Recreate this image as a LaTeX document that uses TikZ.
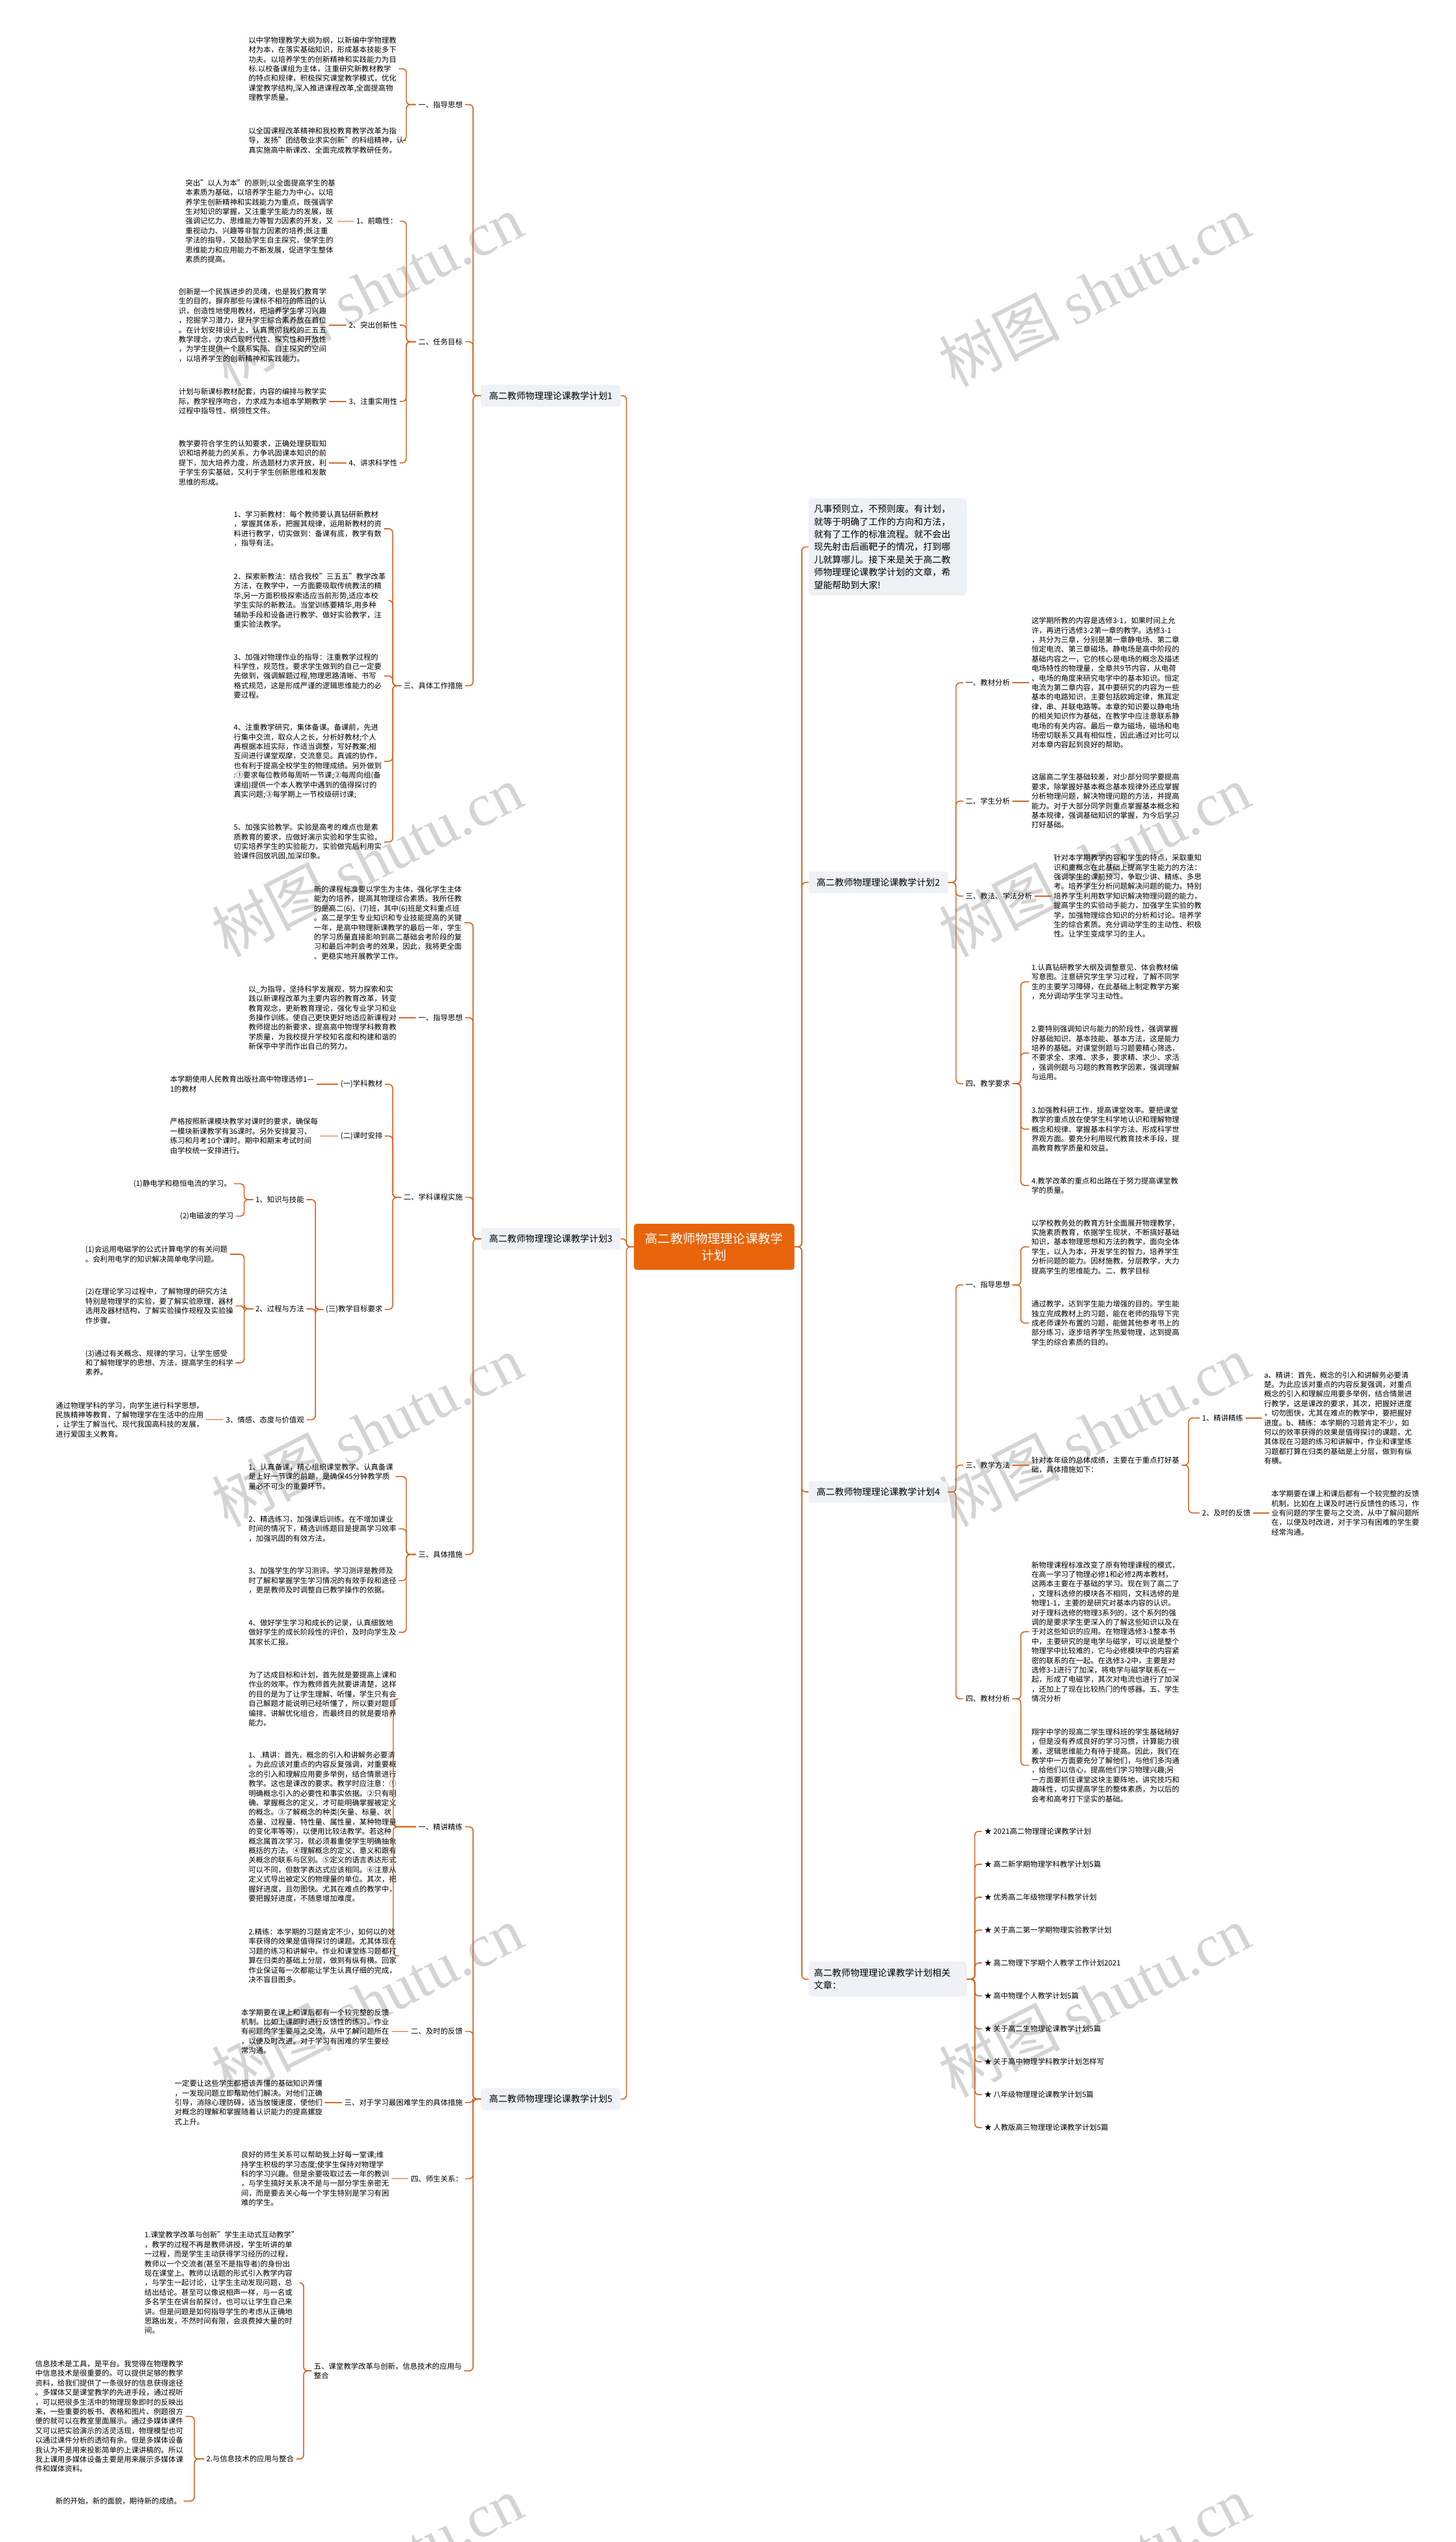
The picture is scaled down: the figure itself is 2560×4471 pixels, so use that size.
\documentclass[tikz,border=0pt]{standalone}
\usepackage{fontspec}
\setmainfont{Noto Sans CJK SC}
\newfontfamily\wmserif{Liberation Serif}
\definecolor{linkc}{RGB}{208,98,32}
\definecolor{boxc}{RGB}{238,241,245}
\definecolor{hubc}{RGB}{232,100,10}
\newcommand\fsz{\fontsize{13}{16.8}\selectfont}

\begin{document}
\begin{tikzpicture}[x=1pt,y=-1pt,
  txt/.style={font=\fsz,align=left,inner sep=4pt,anchor=west},
  lbl/.style={font=\fsz,inner sep=4pt},
  root/.style={font=\fontsize{16}{22}\selectfont,fill=boxc,rounded corners=4pt,inner xsep=10pt,minimum height=38pt,minimum width=245pt,anchor=west},
  note/.style={font=\fontsize{16}{22.3}\selectfont,fill=boxc,rounded corners=5pt,text width=259pt,inner xsep=9.5pt,align=left,anchor=west},
  hub/.style={font=\fontsize{22}{29}\selectfont,fill=hubc,text=white,rounded corners=5pt,align=center,minimum width=282pt,minimum height=81pt},
  link/.style={draw=linkc,line width=1.8pt,rounded corners=7pt},
  wm/.style={text=black!17,font=\fontsize{106}{110}\selectfont,rotate=27}]

\useasboundingbox (0,0) rectangle (2560,4471);
\fill[white] (0,0) rectangle (2560,4471);

\foreach \k in {0,...,4}{
  \node (wl\k) at (645,511+1003*\k) [wm]{树图 {\wmserif shutu.cn}};
  \node (wr\k) at (1925,511+1003*\k) [wm]{树图 {\wmserif shutu.cn}};
}

\node (hub) at (1256,2193) [hub]{高二教师物理理论课教学\\计划};

% left side
\node (p1) at (846,696) [root]{高二教师物理理论课教学计划1};
\node (p3) at (846,2179) [root]{高二教师物理理论课教学计划3};
\node (p5) at (846,3692) [root]{高二教师物理理论课教学计划5};

\node (p1a) at (818,184) [lbl,anchor=east]{一、指导思想};
\node (p1b) at (818,601) [lbl,anchor=east]{二、任务目标};
\node (p1c) at (818,1206) [lbl,anchor=east]{三、具体工作措施};

\node (p1a1) at (433,121) [txt]{以中学物理教学大纲为纲，以新编中学物理教\\材为本，在落实基础知识，形成基本技能多下\\功夫。以培养学生的创新精神和实践能力为目\\标.以校备课组为主体，注重研究新教材教学\\的特点和规律，积极探究课堂教学模式，优化\\课堂教学结构,深入推进课程改革,全面提高物\\理教学质量。};
\node (p1a2) at (433,247) [txt]{以全国课程改革精神和我校教育教学改革为指\\导，发扬"团结敬业求实创新"的科组精神，认\\真实施高中新课改、全面完成教学教研任务。};

\node (p1b1) at (703,389) [lbl,anchor=east]{1、前瞻性：};
\node (p1b2) at (703,572) [lbl,anchor=east]{2、突出创新性};
\node (p1b3) at (703,706) [lbl,anchor=east]{3、注重实用性};
\node (p1b4) at (703,814) [lbl,anchor=east]{4、讲求科学性};
\node (p1b1t) at (322,389) [txt]{突出"以人为本"的原则;以全面提高学生的基\\本素质为基础，以培养学生能力为中心，以培\\养学生创新精神和实践能力为重点，既强调学\\生对知识的掌握，又注重学生能力的发展，既\\强调记忆力、思维能力等智力因素的开发，又\\重视动力、兴趣等非智力因素的培养;既注重\\学法的指导，又鼓励学生自主探究，使学生的\\思维能力和应用能力不断发展，促进学生整体\\素质的提高。};
\node (p1b2t) at (310,572) [txt]{创新是一个民族进步的灵魂，也是我们教育学\\生的目的，摒弃那些与课标不相符的陈旧的认\\识，创造性地使用教材，把培养学生学习兴趣\\，挖掘学习潜力，提升学生综合素养放在首位\\。在计划安排设计上，认真贯彻我校的三五五\\教学理念，力求凸现时代性、探究性和开放性\\，为学生提供一个联系实际、自主探究的空间\\，以培养学生的创新精神和实践能力。};
\node (p1b3t) at (310,706) [txt]{计划与新课标教材配套，内容的编排与教学实\\际，教学程序吻合，力求成为本组本学期教学\\过程中指导性、纲领性文件。};
\node (p1b4t) at (310,814) [txt]{教学要符合学生的认知要求，正确处理获取知\\识和培养能力的关系，力争巩固课本知识的前\\提下，加大培养力度，所选题材力求开放，利\\于学生夯实基础，又利于学生创新思维和发散\\思维的形成。};

\node (p1c1) at (407,930) [txt]{1、学习新教材：每个教师要认真钻研新教材\\，掌握其体系，把握其规律，运用新教材的资\\料进行教学，切实做到：备课有底，教学有数\\，指导有法。};
\node (p1c2) at (407,1056) [txt]{2、探索新教法：结合我校"三五五"教学改革\\方法，在教学中，一方面要吸取传统教法的精\\华,另一方面积极探索适应当前形势,适应本校\\学生实际的新教法。当堂训练要精华,用多种\\辅助手段和设备进行教学、做好实验教学，注\\重实验法教学。};
\node (p1c3) at (407,1189) [txt]{3、加强对物理作业的指导：注重教学过程的\\科学性，规范性。要求学生做到的自己一定要\\先做到，强调解题过程,物理思路清晰、书写\\格式规范，这是形成严谨的逻辑思维能力的必\\要过程。};
\node (p1c4) at (407,1339) [txt]{4、注重教学研究，集体备课。备课前，先进\\行集中交流，取众人之长，分析好教材;个人\\再根据本班实际，作适当调整，写好教案;相\\互间进行课堂观摩，交流意见。真诚的协作，\\也有利于提高全校学生的物理成绩。另外做到\\:①要求每位教师每周听一节课;②每周向组(备\\课组)提供一个本人教学中遇到的值得探讨的\\真实问题;③每学期上一节校级研讨课;};
\node (p1c5) at (407,1481) [txt]{5、加强实验教学。实验是高考的难点也是素\\质教育的要求，应做好演示实验和学生实验，\\切实培养学生的实验能力，实验做完后利用实\\验课件回放巩固,加深印象。};

\node (p3x) at (548,1623) [txt]{新的课程标准要以学生为主体，强化学生主体\\能力的培养，提高其物理综合素质。我所任教\\的是高二(6)、(7)班，其中(6)班是文科重点班\\。高二是学生专业知识和专业技能提高的关键\\一年，是高中物理新课教学的最后一年，学生\\的学习质量直接影响到高二基础会考阶段的复\\习和最后冲刺会考的效果，因此，我将更全面\\、更稳实地开展教学工作。};
\node (p3a) at (818,1790) [lbl,anchor=east]{一、指导思想};
\node (p3b) at (818,2106) [lbl,anchor=east]{二、学科课程实施};
\node (p3c) at (818,2734) [lbl,anchor=east]{三、具体措施};
\node (p3a1) at (433,1790) [txt]{以\_为指导，坚持科学发展观，努力探索和实\\践以新课程改革为主要内容的教育改革，转变\\教育观念，更新教育理论，强化专业学习和业\\务操作训练。使自己更快更好地适应新课程对\\教师提出的新要求，提高高中物理学科教育教\\学质量，为我校提升学校知名度和构建和谐的\\新保亭中学而作出自己的努力。};

\node (p3b1) at (677,1907) [lbl,anchor=east]{(一)学科教材};
\node (p3b2) at (677,1998) [lbl,anchor=east]{(二)课时安排};
\node (p3b3) at (677,2303) [lbl,anchor=east]{(三)教学目标要求};
\node (p3b1t) at (295,1907) [txt]{本学期使用人民教育出版社高中物理选修1—\\1的教材};
\node (p3b2t) at (295,1998) [txt]{严格按照新课模块教学对课时的要求，确保每\\一模块新课教学有36课时。另外安排复习、\\练习和月考10个课时。期中和期末考试时间\\由学校统一安排进行。};

\node (p3b3a) at (539,2110) [lbl,anchor=east]{1、知识与技能};
\node (p3b3b) at (539,2302) [lbl,anchor=east]{2、过程与方法};
\node (p3b3c) at (539,2497) [lbl,anchor=east]{3、情感、态度与价值观};
\node (p3b3a1) at (411,2082) [txt,anchor=east]{(1)静电学和稳恒电流的学习。};
\node (p3b3a2) at (415,2139) [txt,anchor=east]{(2)电磁波的学习};
\node (p3b3b1) at (146,2206) [txt]{(1)会运用电磁学的公式计算电学的有关问题\\。会利用电学的知识解决简单电学问题。};
\node (p3b3b2) at (146,2297) [txt]{(2)在理论学习过程中，了解物理的研究方法\\特别是物理学的实验，要了解实验原理、器材\\选用及器材结构，了解实验操作规程及实验操\\作步骤。};
\node (p3b3b3) at (146,2397) [txt]{(3)通过有关概念、规律的学习，让学生感受\\和了解物理学的思想、方法，提高学生的科学\\素养。};
\node (p3b3c1) at (94,2497) [txt]{通过物理学科的学习，向学生进行科学思想，\\民族精神等教育，了解物理学在生活中的应用\\，让学生了解当代、现代我国高科技的发展，\\进行爱国主义教育。};

\node (p3c1) at (433,2597) [txt]{1、认真备课，精心组织课堂教学。认真备课\\是上好一节课的前题，是确保45分钟教学质\\量必不可少的重要环节。};
\node (p3c2) at (433,2689) [txt]{2、精选练习，加强课后训练。在不增加课业\\时间的情况下，精选训练题目是提高学习效率\\，加强巩固的有效方法。};
\node (p3c3) at (433,2780) [txt]{3、加强学生的学习测评。学习测评是教师及\\时了解和掌握学生学习情况的有效手段和途径\\，更是教师及时调整自已教学操作的依据。};
\node (p3c4) at (433,2871) [txt]{4、做好学生学习和成长的记录，认真细致地\\做好学生的成长阶段性的评价，及时向学生及\\其家长汇报。};

\node (p5a) at (818,3213) [lbl,anchor=east]{一、精讲精练};
\node (p5b) at (818,3573) [lbl,anchor=east]{二、及时的反馈};
\node (p5c) at (818,3698) [lbl,anchor=east]{三、对于学习最困难学生的具体措施};
\node (p5d) at (818,3832) [lbl,anchor=east]{四、师生关系：};
\node (p5e) at (548,4170) [txt]{五、课堂教学改革与创新，信息技术的应用与\\整合};

\node (p5a1) at (433,2988) [txt]{为了达成目标和计划，首先就是要提高上课和\\作业的效率。作为教师首先就要讲清楚，这样\\的目的是为了让学生理解、听懂，学生只有会\\自己解题才能说明已经听懂了，所以要对题目\\编排、讲解优化组合，而最终目的就是要培养\\能力。};
\node (p5a2) at (433,3213) [txt]{1、.精讲：首先，概念的引入和讲解务必要清\\。为此应该对重点的内容反复强调，对重要概\\念的引入和理解应用要多举例，结合情景进行\\教学。这也是课改的要求。教学时应注意：①\\明确概念引入的必要性和事实依据。②只有明\\确、掌握概念的定义，才可能明确掌握被定义\\的概念。③了解概念的种类(矢量、标量、状\\态量、过程量、特性量、属性量，某种物理量\\的变化率等等)，以便用比较法教学。若这种\\概念属首次学习，就必须着重使学生明确抽象\\概括的方法。④理解概念的定义、意义和跟有\\关概念的联系与区别。⑤定义的语言表达形式\\可以不同，但数学表达式应该相同。⑥注意从\\定义式导出被定义的物理量的单位。其次，把\\握好进度，且勿图快。尤其在难点的教学中，\\要把握好进度，不随意增加难度。};
\node (p5a3) at (433,3440) [txt]{2.精练：本学期的习题肯定不少，如何以的效\\率获得的效果是值得探讨的课题。尤其体现在\\习题的练习和讲解中。作业和课堂练习题都打\\算在归类的基础上分层，做到有纵有横。回家\\作业保证每一次都能让学生认真仔细的完成，\\决不盲目图多。};
\node (p5b1) at (420,3573) [txt]{本学期要在课上和课后都有一个较完整的反馈\\机制。比如上课即时进行反馈性的练习。作业\\有问题的学生要与之交流，从中了解问题所在\\，以便及时改进。对于学习有困难的学生要经\\常沟通。};
\node (p5c1) at (303,3698) [txt]{一定要让这些学生都把该弄懂的基础知识弄懂\\，一发现问题立即帮助他们解决。对他们正确\\引导，消除心理防碍，适当放慢速度，使他们\\对概念的理解和掌握随着认识能力的提高螺旋\\式上升。};
\node (p5d1) at (420,3832) [txt]{良好的师生关系可以帮助我上好每一堂课;维\\持学生积极的学习态度;使学生保持对物理学\\科的学习兴趣。但是余要吸取过去一年的教训\\，与学生搞好关系决不是与一部分学生亲密无\\间，而是要去关心每一个学生特别是学习有困\\难的学生。};
\node (p5e1) at (250,4015) [txt]{1.课堂教学改革与创新"学生主动式互动教学"\\，教学的过程不再是教师讲授，学生听讲的单\\一过程，而是学生主动获得学习经历的过程，\\教师以一个交流者(甚至不是指导者)的身份出\\现在课堂上。教师以话题的形式引入教学内容\\，与学生一起讨论，让学生主动发现问题，总\\结出结论。甚至可以像说相声一样，与一名或\\多名学生在讲台前探讨，也可以让学生自己来\\讲。但是问题是如何指导学生的考虑从正确地\\思路出发，不然时间有限，会浪费掉大量的时\\间。};
\node (p5e2) at (521,4325) [lbl,anchor=east]{2.与信息技术的应用与整合};
\node (p5e2a) at (58,4250) [txt]{信息技术是工具，是平台。我觉得在物理教学\\中信息技术是很重要的。可以提供足够的教学\\资料，给我们提供了一条很好的信息获得途径\\。多媒体又是课堂教学的先进手段，通过视听\\，可以把很多生活中的物理现象即时的反映出\\来，一些重要的板书、表格和图片、例题很方\\便的就可以在教室里面展示。通过多媒体课件\\又可以把实验演示的活灵活现，物理模型也可\\以通过课件分析的透彻有余。但是多媒体设备\\我认为不是用来投影简单的上课讲稿的。所以\\我上课用多媒体设备主要是用来展示多媒体课\\件和媒体资料。};
\node (p5e2b) at (323,4399) [txt,anchor=east]{新的开始，新的面貌，期待新的成绩。};

% right side
\node (intro) at (1422,962) [note,minimum height=171pt]{凡事预则立，不预则废。有计划，\\就等于明确了工作的方向和方法，\\就有了工作的标准流程。就不会出\\现先射击后画靶子的情况，打到哪\\儿就算哪儿。接下来是关于高二教\\师物理理论课教学计划的文章，希\\望能帮助到大家!};
\node (p2) at (1422,1552) [root]{高二教师物理理论课教学计划2};
\node (p4) at (1422,2624) [root]{高二教师物理理论课教学计划4};
\node (p6) at (1422,3481) [note,minimum height=61pt]{高二教师物理理论课教学计划相关\\文章：};

\node (p2a) at (1694,1201) [lbl,anchor=west]{一、教材分析};
\node (p2b) at (1694,1409) [lbl,anchor=west]{二、学生分析};
\node (p2c) at (1694,1576) [lbl,anchor=west]{三、教法、学法分析};
\node (p2d) at (1694,1906) [lbl,anchor=west]{四、教学要求};
\node (p2a1) at (1810,1201) [txt]{这学期所教的内容是选修3-1，如果时间上允\\许，再进行选修3-2第一章的教学。选修3-1\\，共分为三章，分别是第一章静电场、第二章\\恒定电流、第三章磁场。静电场是高中阶段的\\基础内容之一，它的核心是电场的概念及描述\\电场特性的物理量，全章共9节内容，从电荷\\、电场的角度来研究电学中的基本知识。恒定\\电流为第二章内容，其中要研究的内容为一些\\基本的电路知识，主要包括欧姆定律，焦耳定\\律，串、并联电路等。本章的知识要以静电场\\的相关知识作为基础，在教学中应注意联系静\\电场的有关内容。最后一章为磁场，磁场和电\\场密切联系又具有相似性，因此通过对比可以\\对本章内容起到良好的帮助。};
\node (p2b1) at (1810,1409) [txt]{这届高二学生基础较差，对少部分同学要提高\\要求，除掌握好基本概念基本规律外还应掌握\\分析物理问题，解决物理问题的方法，并提高\\能力。对于大部分同学则重点掌握基本概念和\\基本规律，强调基础知识的掌握，为今后学习\\打好基础。};
\node (p2c1) at (1849,1576) [txt]{针对本学期教学内容和学生的特点，采取重知\\识和重概念在此基础上提高学生能力的方法：\\强调学生的课前预习，争取少讲、精练、多思\\考。培养学生分析问题解决问题的能力。特别\\培养学生利用数学知识解决物理问题的能力，\\提高学生的实验动手能力，加强学生实验的教\\学，加强物理综合知识的分析和讨论。培养学\\生的综合素质。充分调动学生的主动性、积极\\性。让学生变成学习的主人。};
\node (p2d1) at (1810,1727) [txt]{1.认真钻研教学大纲及调整意见、体会教材编\\写意图。注意研究学生学习过程，了解不同学\\生的主要学习障碍，在此基础上制定教学方案\\，充分调动学生学习主动性。};
\node (p2d2) at (1810,1852) [txt]{2.要特别强调知识与能力的阶段性，强调掌握\\好基础知识、基本技能、基本方法，这是能力\\培养的基础。对课堂例题与习题要精心筛选，\\不要求全、求难、求多，要求精、求少、求活\\，强调例题与习题的教育教学因素，强调理解\\与运用。};
\node (p2d3) at (1810,1986) [txt]{3.加强教科研工作，提高课堂效率。要把课堂\\教学的重点放在使学生科学地认识和理解物理\\概念和规律、掌握基本科学方法、形成科学世\\界观方面。要充分利用现代教育技术手段，提\\高教育教学质量和效益。};
\node (p2d4) at (1810,2085) [txt]{4.教学改革的重点和出路在于努力提高课堂教\\学的质量。};

\node (p4a) at (1694,2260) [lbl,anchor=west]{一、指导思想};
\node (p4b) at (1694,2577) [lbl,anchor=west]{三、教学方法};
\node (p4c) at (1694,2988) [lbl,anchor=west]{四、教材分析};
\node (p4a1) at (1810,2193) [txt]{以学校教务处的教育方针全面展开物理教学，\\实施素质教育，依据学生现状，不断搞好基础\\知识，基本物理思想和方法的教学，面向全体\\学生，以人为本，开发学生的智力，培养学生\\分析问题的能力。因材施教，分层教学，大力\\提高学生的思维能力。二、教学目标};
\node (p4a2) at (1810,2327) [txt]{通过教学，达到学生能力增强的目的。学生能\\独立完成教材上的习题，能在老师的指导下完\\成老师课外布置的习题，能做其他参考书上的\\部分练习，逐步培养学生热爱物理，达到提高\\学生的综合素质的目的。};
\node (p4b1) at (1810,2577) [txt]{针对本年级的总体成绩，主要在于重点打好基\\础，具体措施如下：};
\node (p4b1a) at (2110,2494) [lbl,anchor=west]{1、精讲精练};
\node (p4b1b) at (2110,2661) [lbl,anchor=west]{2、及时的反馈};
\node (p4b1a1) at (2219,2494) [txt]{a、精讲：首先，概念的引入和讲解务必要清\\楚。为此应该对重点的内容反复强调，对重点\\概念的引入和理解应用要多举例，结合情景进\\行教学，这是课改的要求，其次，把握好进度\\，切勿图快，尤其在难点的教学中，要把握好\\进度。b、精练：本学期的习题肯定不少，如\\何以的效率获得的效果是值得探讨的课题，尤\\其体现在习题的练习和讲解中，作业和课堂练\\习题都打算在归类的基础是上分层，做到有纵\\有横。};
\node (p4b1b1) at (2232,2661) [txt]{本学期要在课上和课后都有一个较完整的反馈\\机制，比如在上课及时进行反馈性的练习，作\\业有问题的学生要与之交流，从中了解问题所\\在，以便及时改进，对于学习有困难的学生要\\经常沟通。};
\node (p4c1) at (1810,2870) [txt]{新物理课程标准改变了原有物理课程的模式，\\在高一学习了物理必修1和必修2两本教材，\\这两本主要在于基础的学习。现在到了高二了\\，文理科选修的模块各不相同，文科选修的是\\物理1-1，主要的是研究对基本内容的认识。\\对于理科选修的物理3系列的，这个系列的强\\调的是要求学生更深入的了解这些知识以及在\\于对这些知识的应用。在物理选修3-1整本书\\中，主要研究的是电学与磁学，可以说是整个\\物理学中比较难的，它与必修模块中的内容紧\\密的联系的在一起。在选修3-2中，主要是对\\选修3-1进行了加深，将电学与磁学联系在一\\起，形成了电磁学，其次对电流也进行了加深\\，还加上了现在比较热门的传感器。五、学生\\情况分析};
\node (p4c2) at (1810,3105) [txt]{翔宇中学的现高二学生理科班的学生基础稍好\\，但是没有养成良好的学习习惯，计算能力很\\差，逻辑思维能力有待于提高。因此，我们在\\教学中一方面要充分了解他们，与他们多沟通\\，给他们以信心，提高他们学习物理兴趣;另\\一方面要抓住课堂这块主要阵地，讲究技巧和\\趣味性，切实提高学生的整体素质，为以后的\\会考和高考打下坚实的基础。};

\foreach \t [count=\i from 0] in {2021高二物理理论课教学计划,高二新学期物理学科教学计划5篇,优秀高二年级物理学科教学计划,关于高二第一学期物理实验教学计划,高二物理下学期个人教学工作计划2021,高中物理个人教学计划5篇,关于高二生物理论课教学计划5篇,关于高中物理学科教学计划怎样写,八年级物理理论课教学计划5篇,人教版高三物理理论课教学计划5篇}
  \node (s\i) at (1727,3221+57.9*\i) [lbl,anchor=west]{★ \t};

% connectors
\foreach \c in {p1,p3,p5} \draw[link] (hub.west) -- ++(-13,0) |- (\c.east);
\foreach \c in {intro,p2,p4,p6} \draw[link] (hub.east) -- ++(13,0) |- (\c.west);

\foreach \c in {p1a,p1b,p1c} \draw[link] (p1.west) -- ++(-14,0) |- (\c.east);
\foreach \c in {p1a1,p1a2} \draw[link] (p1a.west) -- ++(-17,0) |- (\c.east);
\foreach \c in {p1b1,p1b2,p1b3,p1b4} {
  \draw[link] (p1b.west) -- ++(-17,0) |- (\c.east);
  \draw[link] (\c.west) -- (\c.west -| \c t.east);
}
\foreach \c in {1,...,5} \draw[link] (p1c.west) -- ++(-15,0) |- (p1c\c.east);

\foreach \c in {p3x,p3a,p3b,p3c} \draw[link] (p3.west) -- ++(-14,0) |- (\c.east);
\draw[link] (p3a.west) -- (p3a.west -| p3a1.east);
\foreach \c in {p3b1,p3b2,p3b3} \draw[link] (p3b.west) -- ++(-15,0) |- (\c.east);
\foreach \c in {p3b1,p3b2} \draw[link] (\c.west) -- (\c.west -| \c t.east);
\foreach \c in {p3b3a,p3b3b,p3b3c} \draw[link] (p3b3.west) -- ++(-14,0) |- (\c.east);
\foreach \c in {1,2} \draw[link] (p3b3a.west) -- ++(-16,0) |- (p3b3a\c.east);
\foreach \c in {1,2,3} \draw[link] (p3b3b.west) -- ++(-16,0) |- (p3b3b\c.east);
\draw[link] (p3b3c.west) -- (p3b3c.west -| p3b3c1.east);
\foreach \c in {1,...,4} \draw[link] (p3c.west) -- ++(-17,0) |- (p3c\c.east);

\foreach \c in {p5a,p5b,p5c,p5d,p5e} \draw[link] (p5.west) -- ++(-14,0) |- (\c.east);
\foreach \c in {1,2,3} \draw[link] (p5a.west) -- ++(-40,0) |- (p5a\c.east);
\foreach \c in {p5b,p5c,p5d} \draw[link] (\c.west) -- (\c.west -| \c 1.east);
\foreach \c in {p5e1,p5e2} \draw[link] (p5e.west) -- ++(-14,0) |- (\c.east);
\foreach \c in {p5e2a,p5e2b} \draw[link] (p5e2.west) -- ++(-17,0) |- (\c.east);

\foreach \c in {p2a,p2b,p2c,p2d} \draw[link] (p2.east) -- ++(14,0) |- (\c.west);
\foreach \c in {p2a,p2b,p2c} \draw[link] (\c.east) -- (\c.east -| \c 1.west);
\foreach \c in {1,...,4} \draw[link] (p2d.east) -- ++(15,0) |- (p2d\c.west);

\foreach \c in {p4a,p4b,p4c} \draw[link] (p4.east) -- ++(14,0) |- (\c.west);
\foreach \c in {1,2} \draw[link] (p4a.east) -- ++(15,0) |- (p4a\c.west);
\draw[link] (p4b.east) -- (p4b.east -| p4b1.west);
\foreach \c in {p4b1a,p4b1b} {
  \draw[link] (p4b1.east) -- ++(12,0) |- (\c.west);
  \draw[link] (\c.east) -- (\c.east -| \c 1.west);
}
\foreach \c in {1,2} \draw[link] (p4c.east) -- ++(15,0) |- (p4c\c.west);

\foreach \i in {0,...,9} \draw[link] (p6.east) -- ++(14,0) |- (s\i.west);
\end{tikzpicture}
\end{document}
